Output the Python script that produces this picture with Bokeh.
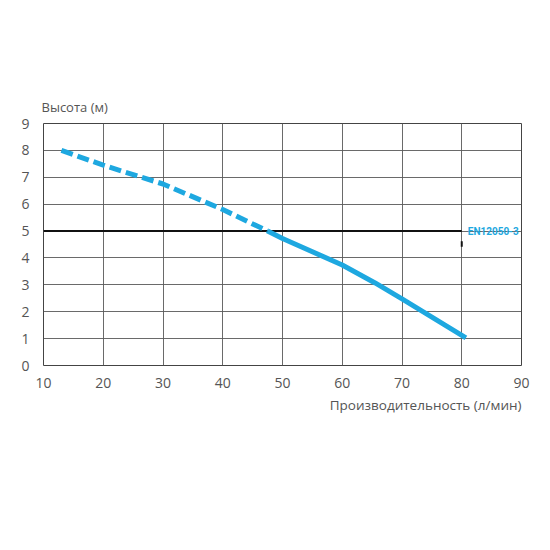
from bokeh.plotting import figure
from bokeh.models import Range1d, FixedTicker, Title
from bokeh.core.properties import value
from bokeh.embed import file_html
from bokeh.resources import INLINE

# data
x_ticks = [10, 20, 30, 40, 50, 60, 70, 80, 90]
y_ticks = [0, 1, 2, 3, 4, 5, 6, 7, 8, 9]
dashed_flow = [13, 20, 30, 40, 47.5]
dashed_head = [8.0, 7.45, 6.75, 5.8, 5.0]
solid_flow = [47.5, 50, 60, 65.5, 70, 80.7]
solid_head = [5.0, 4.72, 3.74, 3.07, 2.48, 1.03]
norm_flow = [10, 80]
norm_head = [5, 5]
norm_label = "EN12050-3"
y_title = "Высота (м)"
x_title = "Производительность (л/мин)"

BLUE = "#1ea8e0"
TXT = "#555555"
FONT = "Open Sans"

p = figure(width=542, height=430, output_backend="svg", toolbar_location=None,
           x_range=Range1d(10, 90), y_range=Range1d(0, 9),
           min_border_left=43, min_border_right=20, min_border_top=123, min_border_bottom=20)
p.frame_width = 478
p.frame_height = 242
p.outline_line_color = "#444444"
p.outline_line_width = 1
p.background_fill_color = "white"
p.border_fill_color = "white"

for ax in (p.xaxis[0], p.yaxis[0]):
    ax.axis_line_color = None
    ax.major_tick_line_color = None
    ax.minor_tick_line_color = None
    ax.major_label_text_font = FONT
    ax.major_label_text_font_size = "14px"
    ax.major_label_text_color = TXT
p.xaxis.ticker = FixedTicker(ticks=x_ticks)
p.yaxis.ticker = FixedTicker(ticks=y_ticks)
p.xaxis.major_label_standoff = 6
p.yaxis.major_label_standoff = 8

p.xgrid.ticker = FixedTicker(ticks=x_ticks)
p.ygrid.ticker = FixedTicker(ticks=y_ticks)
for g in (p.xgrid[0], p.ygrid[0]):
    g.grid_line_color = "#5a5a5a"
    g.grid_line_width = 1
    g.grid_line_alpha = 0.9

# norm line
p.line(norm_flow, norm_head, line_color="#111111", line_width=2)
p.line([norm_flow[1], norm_flow[1]], [4.42, 4.62], line_color="#111111", line_width=2)
p.text(x=[norm_flow[1]], y=[norm_head[0]], text=[norm_label], text_color=BLUE,
       text_font=value("Roboto"), text_font_style="bold", text_font_size="10px",
       text_baseline="middle", text_align="left", x_offset=6)

# curve
p.line(dashed_flow, dashed_head, line_color=BLUE, line_width=5, line_dash="12 5")
p.line(solid_flow, solid_head, line_color=BLUE, line_width=5)

p.add_layout(Title(text=y_title, text_font=FONT, text_font_size="13px", text_font_style="normal",
                   text_color=TXT, align="left", offset=-2, standoff=16), "above")
p.add_layout(Title(text=x_title, text_font=FONT, text_font_size="13.5px", text_font_style="normal",
                   text_color=TXT, align="right", standoff=6), "below")

open("out.html", "w").write(file_html(p, INLINE))
